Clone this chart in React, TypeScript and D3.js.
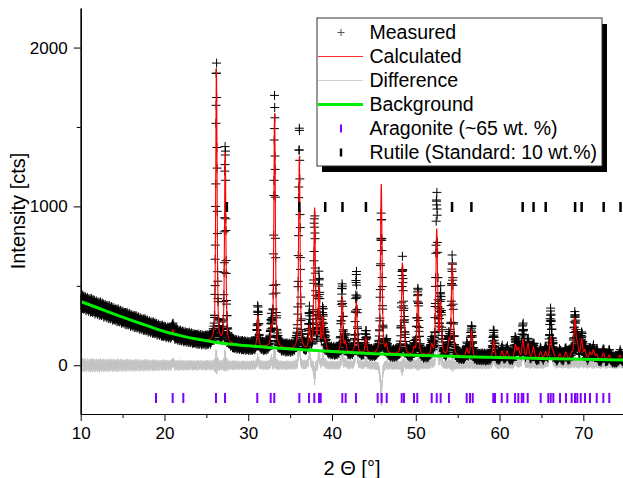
import React, { useRef, useEffect } from "react";
import * as d3 from "d3";

// background control points
const bgTheta = [10, 12, 14, 16, 18, 20, 22, 24, 26, 28, 30, 33, 36, 40, 45, 50, 55, 60, 65, 70, 75];
const bgCounts = [401, 362, 322, 284, 248, 212, 185, 163, 145, 132, 122, 110, 99, 86, 73, 63, 55, 48, 42, 37, 33];

// reflections: position, calculated and observed height above background
const peakPos = [21.0, 26.2, 27.25, 31.15, 32.75, 33.15, 36.1, 37.3, 37.92, 38.45, 38.9, 39.2, 41.2, 41.6, 42.9, 44.05, 45.88, 46.5, 48.4, 48.62, 49.8, 50.25, 51.9, 52.5, 52.97, 53.96, 54.35, 56.1, 56.65, 59.3, 60.3, 60.9, 61.9, 62.25, 62.8, 63.4, 64.05, 64.9, 65.5, 66.1, 66.4, 67.2, 67.9, 68.6, 69.0, 69.3, 69.8, 70.2, 70.8, 71.2, 71.6, 72.4, 73.1, 74.4];
const calcHeight = [25, 1720, 1206, 198, 100, 1479, 1215, 138, 887, 384, 200, 60, 348, 60, 322, 97, 1068, 50, 560, 120, 40, 401, 60, 790, 319, 80, 586, 50, 168, 110, 40, 40, 80, 60, 113, 90, 70, 40, 40, 128, 40, 30, 40, 30, 245, 80, 121, 50, 40, 56, 30, 40, 30, 30];
const obsHeight = [45, 1745, 1238, 241, 130, 1540, 1371, 222, 822, 445, 240, 70, 409, 80, 483, 120, 858, 60, 540, 140, 50, 411, 70, 998, 371, 90, 595, 60, 181, 153, 50, 50, 112, 70, 196, 100, 80, 45, 50, 284, 50, 40, 50, 40, 266, 90, 141, 60, 50, 60, 40, 50, 40, 40];

// residual counts, cycled through the measured points
const noiseCounts = [18, -30, 8, 40, -12, -45, 27, -5, 33, -22, 14, -39, 46, -16, 3, -28, 36, 10, -42, 22, -9, 30, -36, 16, -3, 43, -25, 6, -14, 39, -31, 20, -46, 12, 28, -20, 2, -37, 24, -6, 42, -24, 15, -34, 31, -10, 5, -43, 21, 37, -18, 9, -27];

const aragoniteTicks = [18.99, 20.98, 22.25, 26.15, 27.23, 31.08, 32.68, 33.11, 36.1, 37.25, 37.89, 38.45, 38.65, 41.23, 41.63, 42.86, 45.45, 45.93, 46.53, 48.32, 48.59, 49.79, 50.18, 51.9, 52.5, 52.97, 53.96, 56.08, 56.47, 56.8, 59.25, 59.46, 60.26, 60.93, 61.85, 62.24, 62.65, 62.84, 63.36, 64.91, 65.82, 66.11, 66.42, 67.22, 67.93, 68.61, 69.01, 69.28, 69.69, 70.2, 70.8, 71.6, 72.39, 73.1];
const rutileTicks = [27.45, 36.09, 39.19, 41.25, 44.05, 54.33, 56.64, 62.76, 64.06, 65.51, 69.02, 69.8, 72.43, 74.44];

const xTicks = [10, 20, 30, 40, 50, 60, 70];
const xMinor = [15, 25, 35, 45, 55, 65, 75];
const yTicks = [0, 1000, 2000];
const yMinor = [500, 1500];

const legendLabels = ["Measured", "Calculated", "Difference", "Background", "Aragonite (~65 wt. %)", "Rutile (Standard: 10 wt.%)"];

const W = 623;
const H = 478;
const FONT = "'Liberation Sans', Arial, sans-serif";

const App = () => {
  const ref = useRef(null);

  useEffect(() => {
    const svg = d3.select(ref.current);
    svg.selectAll("*").remove();

    const x = d3.scaleLinear().domain([10, 75]).range([80.7, 625.2]);
    const y = d3.scaleLinear().domain([-307, 2249]).range([414, 8]);
    const bg = d3.scaleLinear().domain(bgTheta).range(bgCounts).clamp(true);

    // pseudo-Voigt peak shape
    const profile = (d, t) => {
      const w = 0.16 + 0.002 * (t - 10);
      const u = (d / w) * (d / w);
      return 0.5 / (1 + 4 * u) + 0.5 * Math.exp(-4 * Math.LN2 * u);
    };

    const pts = [];
    const n = Math.round((75 - 10) / 0.02);
    for (let i = 0; i <= n; i++) {
      const t = 10 + i * 0.02;
      const b = bg(t);
      let c = b;
      let o = b;
      for (let k = 0; k < peakPos.length; k++) {
        const d = t - peakPos[k];
        if (Math.abs(d) > 2) continue;
        const p = profile(d, t);
        c += calcHeight[k] * p;
        o += obsHeight[k] * p;
      }
      o += noiseCounts[i % noiseCounts.length] * Math.sqrt((c + 100) / 500);
      pts.push({ t, b, c, o });
    }

    svg
      .append("defs")
      .append("clipPath")
      .attr("id", "plot-clip")
      .append("rect")
      .attr("x", 80.7)
      .attr("y", 8)
      .attr("width", W - 80.7)
      .attr("height", 406);

    const plot = svg.append("g").attr("clip-path", "url(#plot-clip)");

    // difference
    plot
      .append("path")
      .attr("d", d3.line().x((d) => x(d.t)).y((d) => y(d.o - d.c))(pts))
      .attr("fill", "none")
      .attr("stroke", "#c4c4c4")
      .attr("stroke-width", 1);

    // measured crosses
    const s = 4.5;
    let crossPath = "";
    pts.forEach((d) => {
      const px = x(d.t);
      const py = y(d.o);
      crossPath += `M${(px - s).toFixed(1)},${py.toFixed(1)}h${2 * s}M${px.toFixed(1)},${(py - s).toFixed(1)}v${2 * s}`;
    });
    plot
      .append("path")
      .attr("d", crossPath)
      .attr("fill", "none")
      .attr("stroke", "#000")
      .attr("stroke-width", 1);

    // calculated
    plot
      .append("path")
      .attr("d", d3.line().x((d) => x(d.t)).y((d) => y(d.c))(pts))
      .attr("fill", "none")
      .attr("stroke", "#ff0000")
      .attr("stroke-width", 1.1);

    // background
    plot
      .append("path")
      .attr("d", d3.line().curve(d3.curveMonotoneX).x((d, i) => x(bgTheta[i])).y((d) => y(d))(bgCounts))
      .attr("fill", "none")
      .attr("stroke", "#00ee00")
      .attr("stroke-width", 3);

    // phase reflection ticks
    plot
      .selectAll(".arag")
      .data(aragoniteTicks)
      .join("line")
      .attr("x1", (d) => x(d))
      .attr("x2", (d) => x(d))
      .attr("y1", 393)
      .attr("y2", 403)
      .attr("stroke", "#7f00ff")
      .attr("stroke-width", 2);

    plot
      .selectAll(".rut")
      .data(rutileTicks)
      .join("line")
      .attr("x1", (d) => x(d))
      .attr("x2", (d) => x(d))
      .attr("y1", 202)
      .attr("y2", 212)
      .attr("stroke", "#000")
      .attr("stroke-width", 2.5);

    // axes
    const styleAxis = (g) => {
      g.selectAll("text").attr("font-family", FONT).attr("font-size", 17).attr("fill", "#000");
      g.selectAll("line").attr("stroke", "#000");
      g.selectAll("path").attr("stroke", "#000").attr("stroke-width", 1.2);
    };

    svg
      .append("g")
      .attr("transform", "translate(0,414)")
      .call(d3.axisBottom(x).tickValues(xMinor).tickSize(4).tickSizeOuter(0).tickFormat(() => ""))
      .call(styleAxis);
    svg
      .append("g")
      .attr("transform", "translate(0,414)")
      .call(d3.axisBottom(x).tickValues(xTicks).tickSize(7).tickSizeOuter(0).tickPadding(6).tickFormat(d3.format("d")))
      .call(styleAxis);

    svg
      .append("g")
      .attr("transform", "translate(80.7,0)")
      .call(d3.axisLeft(y).tickValues(yMinor).tickSize(4).tickSizeOuter(0).tickFormat(() => ""))
      .call(styleAxis);
    svg
      .append("g")
      .attr("transform", "translate(80.7,0)")
      .call(d3.axisLeft(y).tickValues(yTicks).tickSize(7).tickSizeOuter(0).tickPadding(6).tickFormat(d3.format("d")))
      .call(styleAxis);

    svg
      .append("text")
      .attr("transform", "translate(18,211) rotate(-90)")
      .attr("text-anchor", "middle")
      .attr("dy", "0.35em")
      .attr("font-family", FONT)
      .attr("font-size", 20)
      .text("Intensity [cts]");

    svg
      .append("text")
      .attr("x", 352)
      .attr("y", 475)
      .attr("text-anchor", "middle")
      .attr("font-family", FONT)
      .attr("font-size", 20)
      .text("2 \u0398 [\u00b0]");

    // legend
    const lg = svg.append("g");
    lg.append("rect").attr("x", 322).attr("y", 24).attr("width", 285).attr("height", 148).attr("fill", "#000");
    lg.append("rect")
      .attr("x", 317)
      .attr("y", 18)
      .attr("width", 285)
      .attr("height", 148)
      .attr("fill", "#fff")
      .attr("stroke", "#333")
      .attr("stroke-width", 1);

    legendLabels.forEach((label, i) => {
      const cy = 32.5 + i * 24;
      lg.append("text")
        .attr("x", 369.5)
        .attr("y", cy)
        .attr("dy", "0.35em")
        .attr("font-family", FONT)
        .attr("font-size", 19.5)
        .text(label);
      if (i === 0) {
        lg.append("path")
          .attr("d", `M337.5,${cy}h7M341,${cy - 3.5}v7`)
          .attr("stroke", "#555")
          .attr("stroke-width", 1);
      } else if (i === 1 || i === 2 || i === 3) {
        const col = ["", "#ff3030", "#d0d0d0", "#00ee00"][i];
        lg.append("line")
          .attr("x1", 318)
          .attr("x2", 363)
          .attr("y1", cy)
          .attr("y2", cy)
          .attr("stroke", col)
          .attr("stroke-width", i === 3 ? 3 : 1);
      } else {
        lg.append("line")
          .attr("x1", 341)
          .attr("x2", 341)
          .attr("y1", cy - 4)
          .attr("y2", cy + 4)
          .attr("stroke", i === 4 ? "#7f00ff" : "#000")
          .attr("stroke-width", i === 4 ? 2 : 2.5);
      }
    });
  }, []);

  return (
    <div style={{ position: "absolute", left: 0, top: 0, width: W, height: H, background: "#fff" }}>
      <svg ref={ref} width={W} height={H}></svg>
    </div>
  );
};

export default App;
